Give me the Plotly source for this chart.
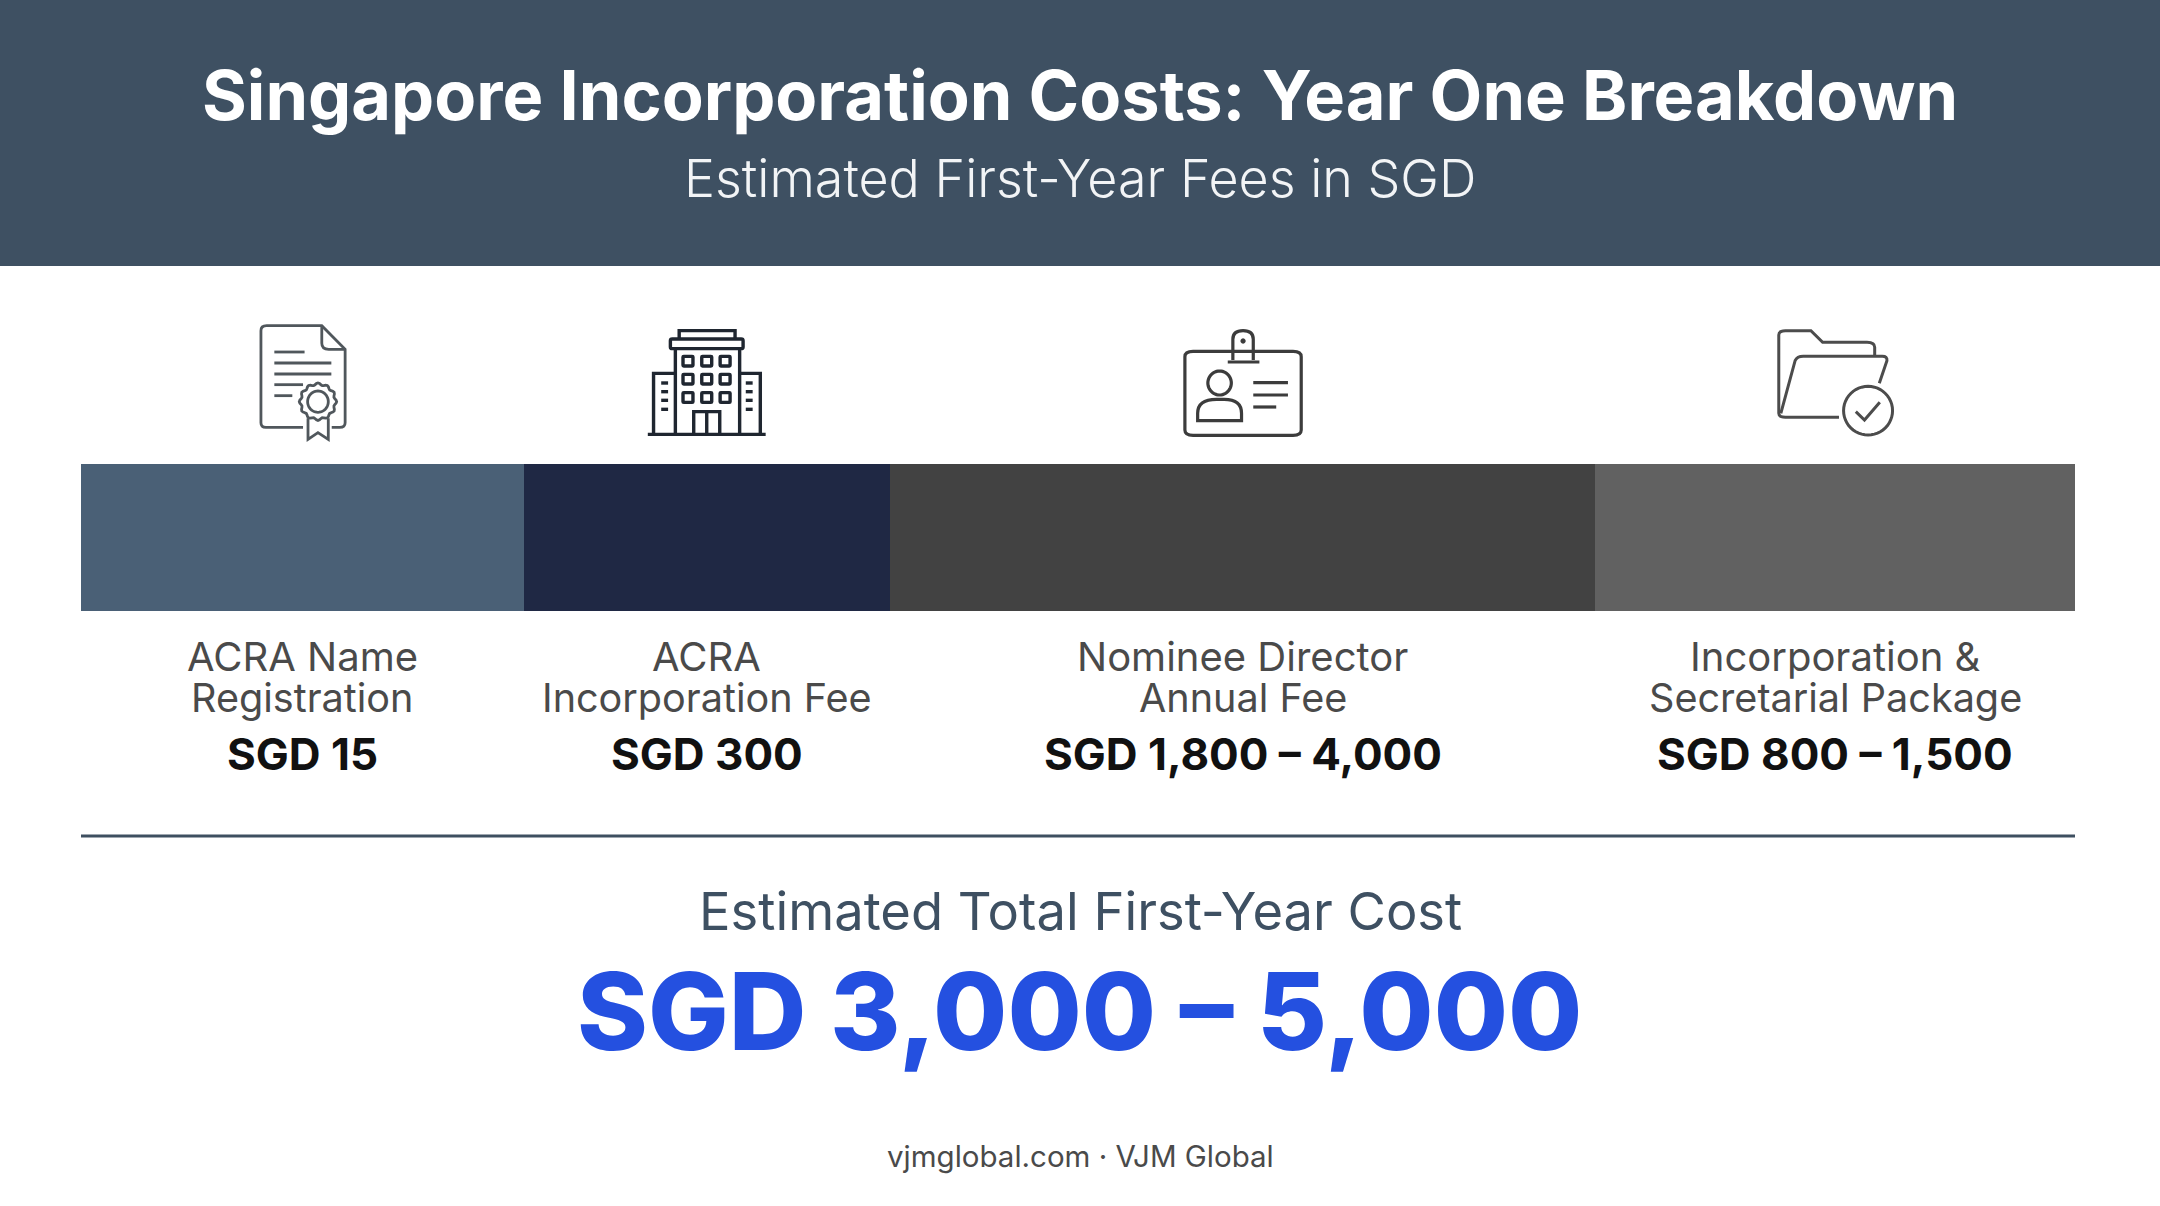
import math
import re
import numpy as np
import plotly.graph_objects as go

W = 2160
H = 1206
FONT = "Inter"

# segments of the strip, share of strip width
categories = ["ACRA Name Registration", "ACRA Incorporation Fee",
              "Nominee Director Annual Fee", "Incorporation & Secretarial Package"]
bar_share = [22.2, 18.35, 35.4, 24.05]
bar_colors = ["#4A6076", "#1F2844", "#424242", "#616161"]
label_line1 = ["ACRA Name", "ACRA", "Nominee Director", "Incorporation &"]
label_line2 = ["Registration", "Incorporation Fee", "Annual Fee", "Secretarial Package"]
fee_labels = ["SGD 15", "SGD 300", "SGD 1,800 – 4,000", "SGD 800 – 1,500"]

title = "Singapore Incorporation Costs: Year One Breakdown"
subtitle = "Estimated First-Year Fees in SGD"
total_label = "Estimated Total First-Year Cost"
total_value = "SGD 3,000 – 5,000"
footer = "vjmglobal.com · VJM Global"


def py(y):
    return 1 - y / H


def scale_path(path, ox, oy, sx, sy):
    # icon paths are written in crop coords, convert to page pixels
    res = []
    is_x = True
    for tok in re.findall(r"[A-Za-z]|-?\d+\.?\d*", path):
        if tok.isalpha():
            res.append(tok)
            is_x = True
        else:
            v = float(tok)
            res.append(f"{ox + v * sx:.2f}" if is_x else f"{oy + v * sy:.2f}")
            is_x = not is_x
    return " ".join(res)


def ellipse(cx, cy, rx, ry, n=48):
    pts = []
    for i in range(n):
        a = 2 * math.pi * i / n
        pts.append(f"{'M' if i == 0 else 'L'}{cx + rx * math.cos(a):.1f} {cy + ry * math.sin(a):.1f}")
    return " ".join(pts) + " Z"


def seal(cx, cy, rx, ry, lobes=12):
    pts = []
    n = lobes * 6
    for i in range(n):
        a = 2 * math.pi * i / n
        k = 1 + 0.06 * math.cos(lobes * a)
        pts.append(f"{'M' if i == 0 else 'L'}{cx + rx * k * math.cos(a):.1f} {cy + ry * k * math.sin(a):.1f}")
    return " ".join(pts) + " Z"


def rrect(x0, y0, x1, y1, r):
    return (f"M{x0 + r} {y0} L{x1 - r} {y0} Q{x1} {y0} {x1} {y0 + r} L{x1} {y1 - r} "
            f"Q{x1} {y1} {x1 - r} {y1} L{x0 + r} {y1} Q{x0} {y1} {x0} {y1 - r} "
            f"L{x0} {y0 + r} Q{x0} {y0} {x0 + r} {y0} Z")


doc_icon = [
    "M217 382 L120 382 Q107 382 107 368 L107 92 Q107 77 122 77 L266 77 L327 148 L327 368 Q327 382 313 382 L292 382",
    "M266 77 L266 130 Q266 148 284 148 L327 148",
    "M142 156 L221 156", "M142 189 L291 189", "M142 222 L291 222", "M142 254 L217 254", "M142 287 L189 287",
    seal(256, 305, 46, 53), ellipse(256, 305, 27, 32),
    "M230 355 L230 418 L256 398 L283 418 L283 355",
]

building_icon = [
    "M1200 116 L1200 92 L1346 92 L1346 116", rrect(1177, 117, 1367, 146, 5),
    "M1190 146 L1190 403", "M1358 146 L1358 403",
    "M1190 220 L1133 220 L1133 403", "M1358 220 L1412 220 L1412 403",
    "M1118 403 L1426 403",
    "M1238 403 L1238 335 L1306 335 L1306 403", "M1272 335 L1272 403",
]
for wx in (1210, 1259, 1307):
    for wy in (169, 223, 278):
        building_icon.append(rrect(wx, wy, wx + 26, wy + 29, 2))
for wy in (249, 275, 301, 328):
    building_icon.append(f"M1153 {wy} L1171 {wy}")
    building_icon.append(f"M1374 {wy} L1392 {wy}")

badge_icon = [
    rrect(88, 154, 316, 406, 16),
    "M182 180 L182 118 Q182 92 202 92 Q222 92 222 118 L222 180",
    "M172 186 L234 186",
    ellipse(202, 123, 2, 3, 12),
    ellipse(156, 249, 23, 36),
    "M113 362 L113 340 Q113 298 150 298 L165 298 Q199 298 199 340 L199 362 Z",
    "M222 248 L290 248", "M222 285 L290 285", "M222 321 L267 321",
]

folder_icon = [
    "M1370 352 L1265 352 Q1252 352 1252 340 L1252 105 Q1252 92 1265 92 L1315 92 L1338 127 L1425 127 Q1440 127 1440 142 L1440 167",
    "M1256 340 L1284 182 Q1288 169 1300 169 L1455 169 Q1465 169 1464 182 L1449 250",
    ellipse(1427, 332, 48, 73),
    "M1403 335 L1420 360 L1450 307",
]

shapes = []
# header band
shapes.append(dict(type="rect", xref="paper", yref="paper", x0=0, x1=1, y0=py(266), y1=1,
                   fillcolor="#3E5062", line_width=0, layer="below"))
# rule under the labels
shapes.append(dict(type="line", xref="paper", yref="paper", x0=81 / W, x1=2075 / W, y0=py(836), y1=py(836),
                   line=dict(color="#3E4F60", width=3)))

crop1 = (220, 300, 600 / 1568, 1 / 3)
crop2 = (1140, 300, 800 / 1568, 1 / 3)
for paths, crop, col, lw in [(doc_icon, crop1, "#50575C", 2.8), (building_icon, crop1, "#1F2630", 3.4),
                             (badge_icon, crop2, "#3C3C3C", 3.2), (folder_icon, crop2, "#4C4C4C", 3)]:
    for p in paths:
        shapes.append(dict(type="path", xref="x2", yref="y2", path=scale_path(p, *crop),
                           line=dict(color=col, width=lw)))

fig = go.Figure()
for name, val, col in zip(categories, bar_share, bar_colors):
    fig.add_trace(go.Bar(y=[0], x=[val], name=name, orientation="h", marker=dict(color=col, line_width=0),
                         showlegend=False))

# invisible full page trace so the pixel axes exist
fig.add_trace(go.Scatter(x=[0, W], y=[0, H], xaxis="x2", yaxis="y2", mode="markers",
                         marker=dict(opacity=0), showlegend=False, hoverinfo="skip"))

edges = np.cumsum([0] + bar_share)
mids = (edges[:-1] + edges[1:]) / 2

annotations = []


def add_text(text, y, size, color, weight=400, x=0.5, xref="paper"):
    annotations.append(dict(text=text, x=x, xref=xref, y=py(y), yref="paper", showarrow=False,
                            xanchor="center", yanchor="middle",
                            font=dict(family=FONT, size=size, color=color, weight=weight)))


add_text(title, 95, 68.5, "#FFFFFF", 700)
add_text(subtitle, 178, 52, "#F2F4F6", 300)
for m, a, b, f in zip(mids, label_line1, label_line2, fee_labels):
    add_text(a, 656, 40, "#4A4A4A", 400, x=m, xref="x")
    add_text(b, 698, 39.6, "#4A4A4A", 400, x=m, xref="x")
    add_text(f, 753.5, 44, "#111111", 700, x=m, xref="x")
add_text(total_label, 911, 52.5, "#3E5062", 400)
add_text(total_value, 1011, 107.5, "#2450E0", 800)
add_text(footer, 1156, 29.5, "#4A4A4A", 400)

fig.update_layout(
    width=W, height=H, autosize=False,
    margin=dict(l=0, r=0, t=0, b=0),
    paper_bgcolor="#FFFFFF", plot_bgcolor="rgba(0,0,0,0)",
    barmode="stack", bargap=0,
    xaxis=dict(domain=[81 / W, 2075 / W], range=[0, 100], visible=False, fixedrange=True),
    yaxis=dict(domain=[py(611), py(464)], range=[-0.5, 0.5], visible=False, fixedrange=True),
    xaxis2=dict(domain=[0, 1], range=[0, W], visible=False, anchor="y2"),
    yaxis2=dict(domain=[0, 1], range=[H, 0], visible=False, anchor="x2"),
    shapes=shapes,
    annotations=annotations,
)

# the page body has a default margin that would push the figure off the window
fig.write_html("out.html", config=dict(displayModeBar=False),
               post_script="document.body.style.margin='0';")
